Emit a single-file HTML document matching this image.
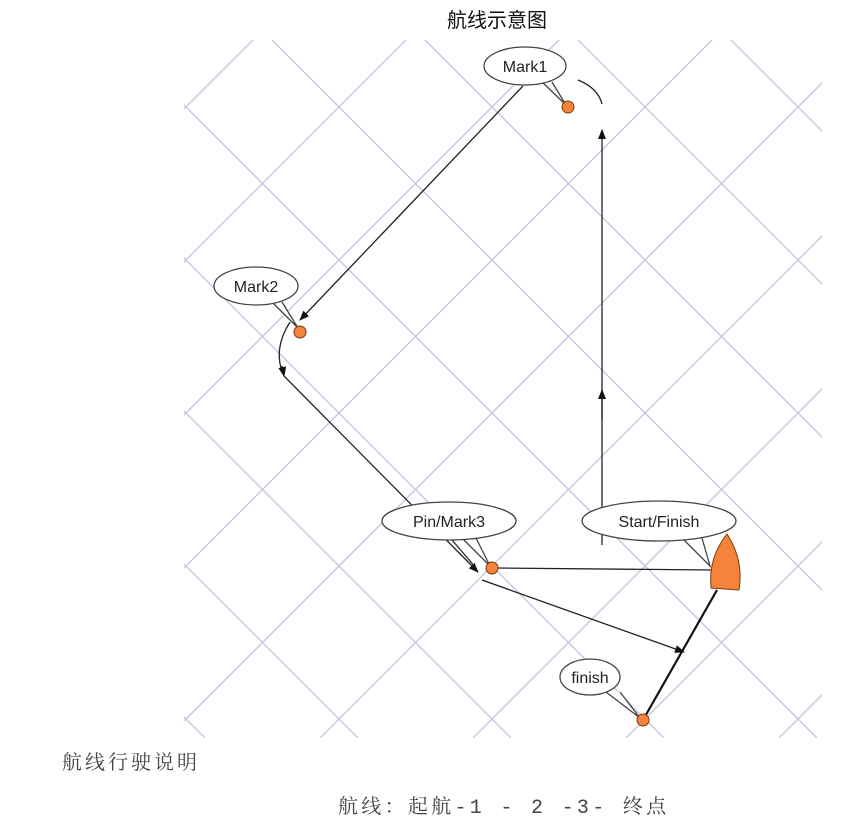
<!DOCTYPE html>
<html><head><meta charset="utf-8"><style>
body{margin:0;width:846px;height:828px;background:#fff;overflow:hidden;position:relative;font-family:"Liberation Sans","Noto Sans CJK SC",sans-serif}
.t{position:absolute;white-space:pre}
</style></head><body>
<div class="t" style="left:447px;top:4px;font-size:20px;color:#111">航线示意图</div>
<svg width="846" height="828" style="position:absolute;left:0;top:0">
<defs>
<pattern id="g" patternUnits="userSpaceOnUse" x="186" y="107" width="153" height="153">
<path d="M0 0L153 153M153 0L0 153" stroke="#c4c6e2" stroke-width="1.4" fill="none"/>
</pattern>
<marker id="a" markerWidth="10" markerHeight="8" refX="9" refY="4" orient="auto" markerUnits="userSpaceOnUse"><path d="M0 0L10 4L0 8z" fill="#111"/></marker>
</defs>
<rect x="184" y="40" width="638" height="698" fill="url(#g)"/>
<g stroke="#222" stroke-width="1.3" fill="none">
<path d="M578 80 Q598 88 602 104"/>
<path d="M602 545 L602 130" marker-end="url(#a)"/>
<path d="M602 420 L602 390" marker-end="url(#a)"/>
<path d="M523 86 L300 320" marker-end="url(#a)"/>
<path d="M284 376 Q272 350 290 322"/>
<path d="M282 366 L284 376" marker-end="url(#a)"/>
<path d="M284 376 L478 572" marker-end="url(#a)"/>
<path d="M452 540 L476 568"/>
<path d="M498 568 L712 570"/>
<path d="M482 580 L684 652" marker-end="url(#a)"/>
</g>
<path d="M717 590 L643 720" stroke="#111" stroke-width="2.2"/>
<g fill="#fff" stroke="#444" stroke-width="1.3">
<path d="M542 82 L566 105 L552 82"/>
<ellipse cx="525" cy="66" rx="41" ry="19"/>
<path d="M272 302 L298 328 L282 302"/>
<ellipse cx="256" cy="286" rx="42" ry="19"/>
<path d="M462 538 L490 566 L476 538"/>
<ellipse cx="449" cy="521" rx="67" ry="19"/>
<path d="M682 538 L710 566 L702 538"/>
<ellipse cx="659" cy="521" rx="77" ry="20"/>
<path d="M606 692 L640 718 L620 692"/>
<ellipse cx="590" cy="677" rx="30" ry="18"/>
</g>
<g font-family="Liberation Sans, sans-serif" font-size="16" fill="#222" text-anchor="middle">
<text x="525" y="72">Mark1</text>
<text x="256" y="292">Mark2</text>
<text x="449" y="527">Pin/Mark3</text>
<text x="659" y="527">Start/Finish</text>
<text x="590" y="683">finish</text>
</g>
<g fill="#f5833a" stroke="#7a3a10" stroke-width="1">
<circle cx="568" cy="107" r="6"/>
<circle cx="300" cy="332" r="6"/>
<circle cx="492" cy="568" r="6"/>
<circle cx="643" cy="720" r="6"/>
<path d="M727 534 Q708 558 711 588 L739 590 Q744 560 727 534z"/>
</g>
</svg>
<div class="t" style="left:62px;top:746px;font-size:20px;letter-spacing:3px;color:#444;font-family:'Liberation Serif','Noto Serif CJK SC',serif">航线行驶说明</div>
<div class="t" style="left:338px;top:790px;font-size:20px;letter-spacing:3.3px;color:#444;font-family:'Liberation Mono','Noto Serif CJK SC',monospace">航线：起航-1 - 2 -3- 终点</div>
</body></html>
